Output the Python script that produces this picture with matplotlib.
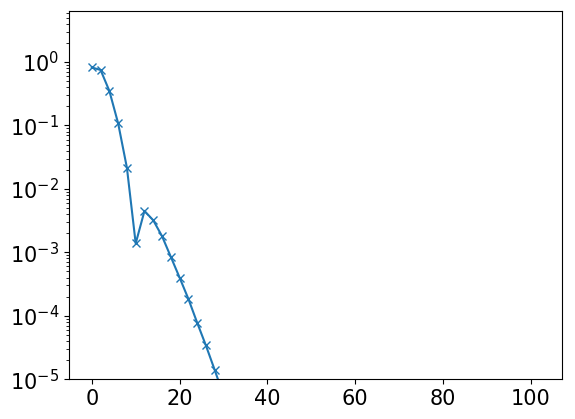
import matplotlib
matplotlib.use("Agg")
import matplotlib.pyplot as plt

x_vals = [0, 2, 4, 6, 8, 10, 12, 14, 16, 18, 20, 22, 24, 26, 28, 30, 32]
y_vals = [0.82, 0.75, 0.35, 0.108, 0.0215, 0.00138, 0.0045, 0.0032, 0.0018,
          0.00085, 0.0004, 0.000185, 7.8e-5, 3.4e-5, 1.4e-5, 5.6e-6, 2.2e-6]

fig = plt.figure(figsize=(5.75, 4.19), dpi=100)
ax = fig.add_axes([0.12, 0.095, 0.857, 0.879])
ax.plot(x_vals, y_vals, marker='x', color='C0')
ax.set_yscale('log')
ax.set_ylim(1e-5, 6.4)
ax.set_xlim(-5.2, 107.1)
ax.set_xticks([0, 20, 40, 60, 80, 100])
ax.tick_params(labelsize=15)
fig.savefig('out.png', dpi=100)
